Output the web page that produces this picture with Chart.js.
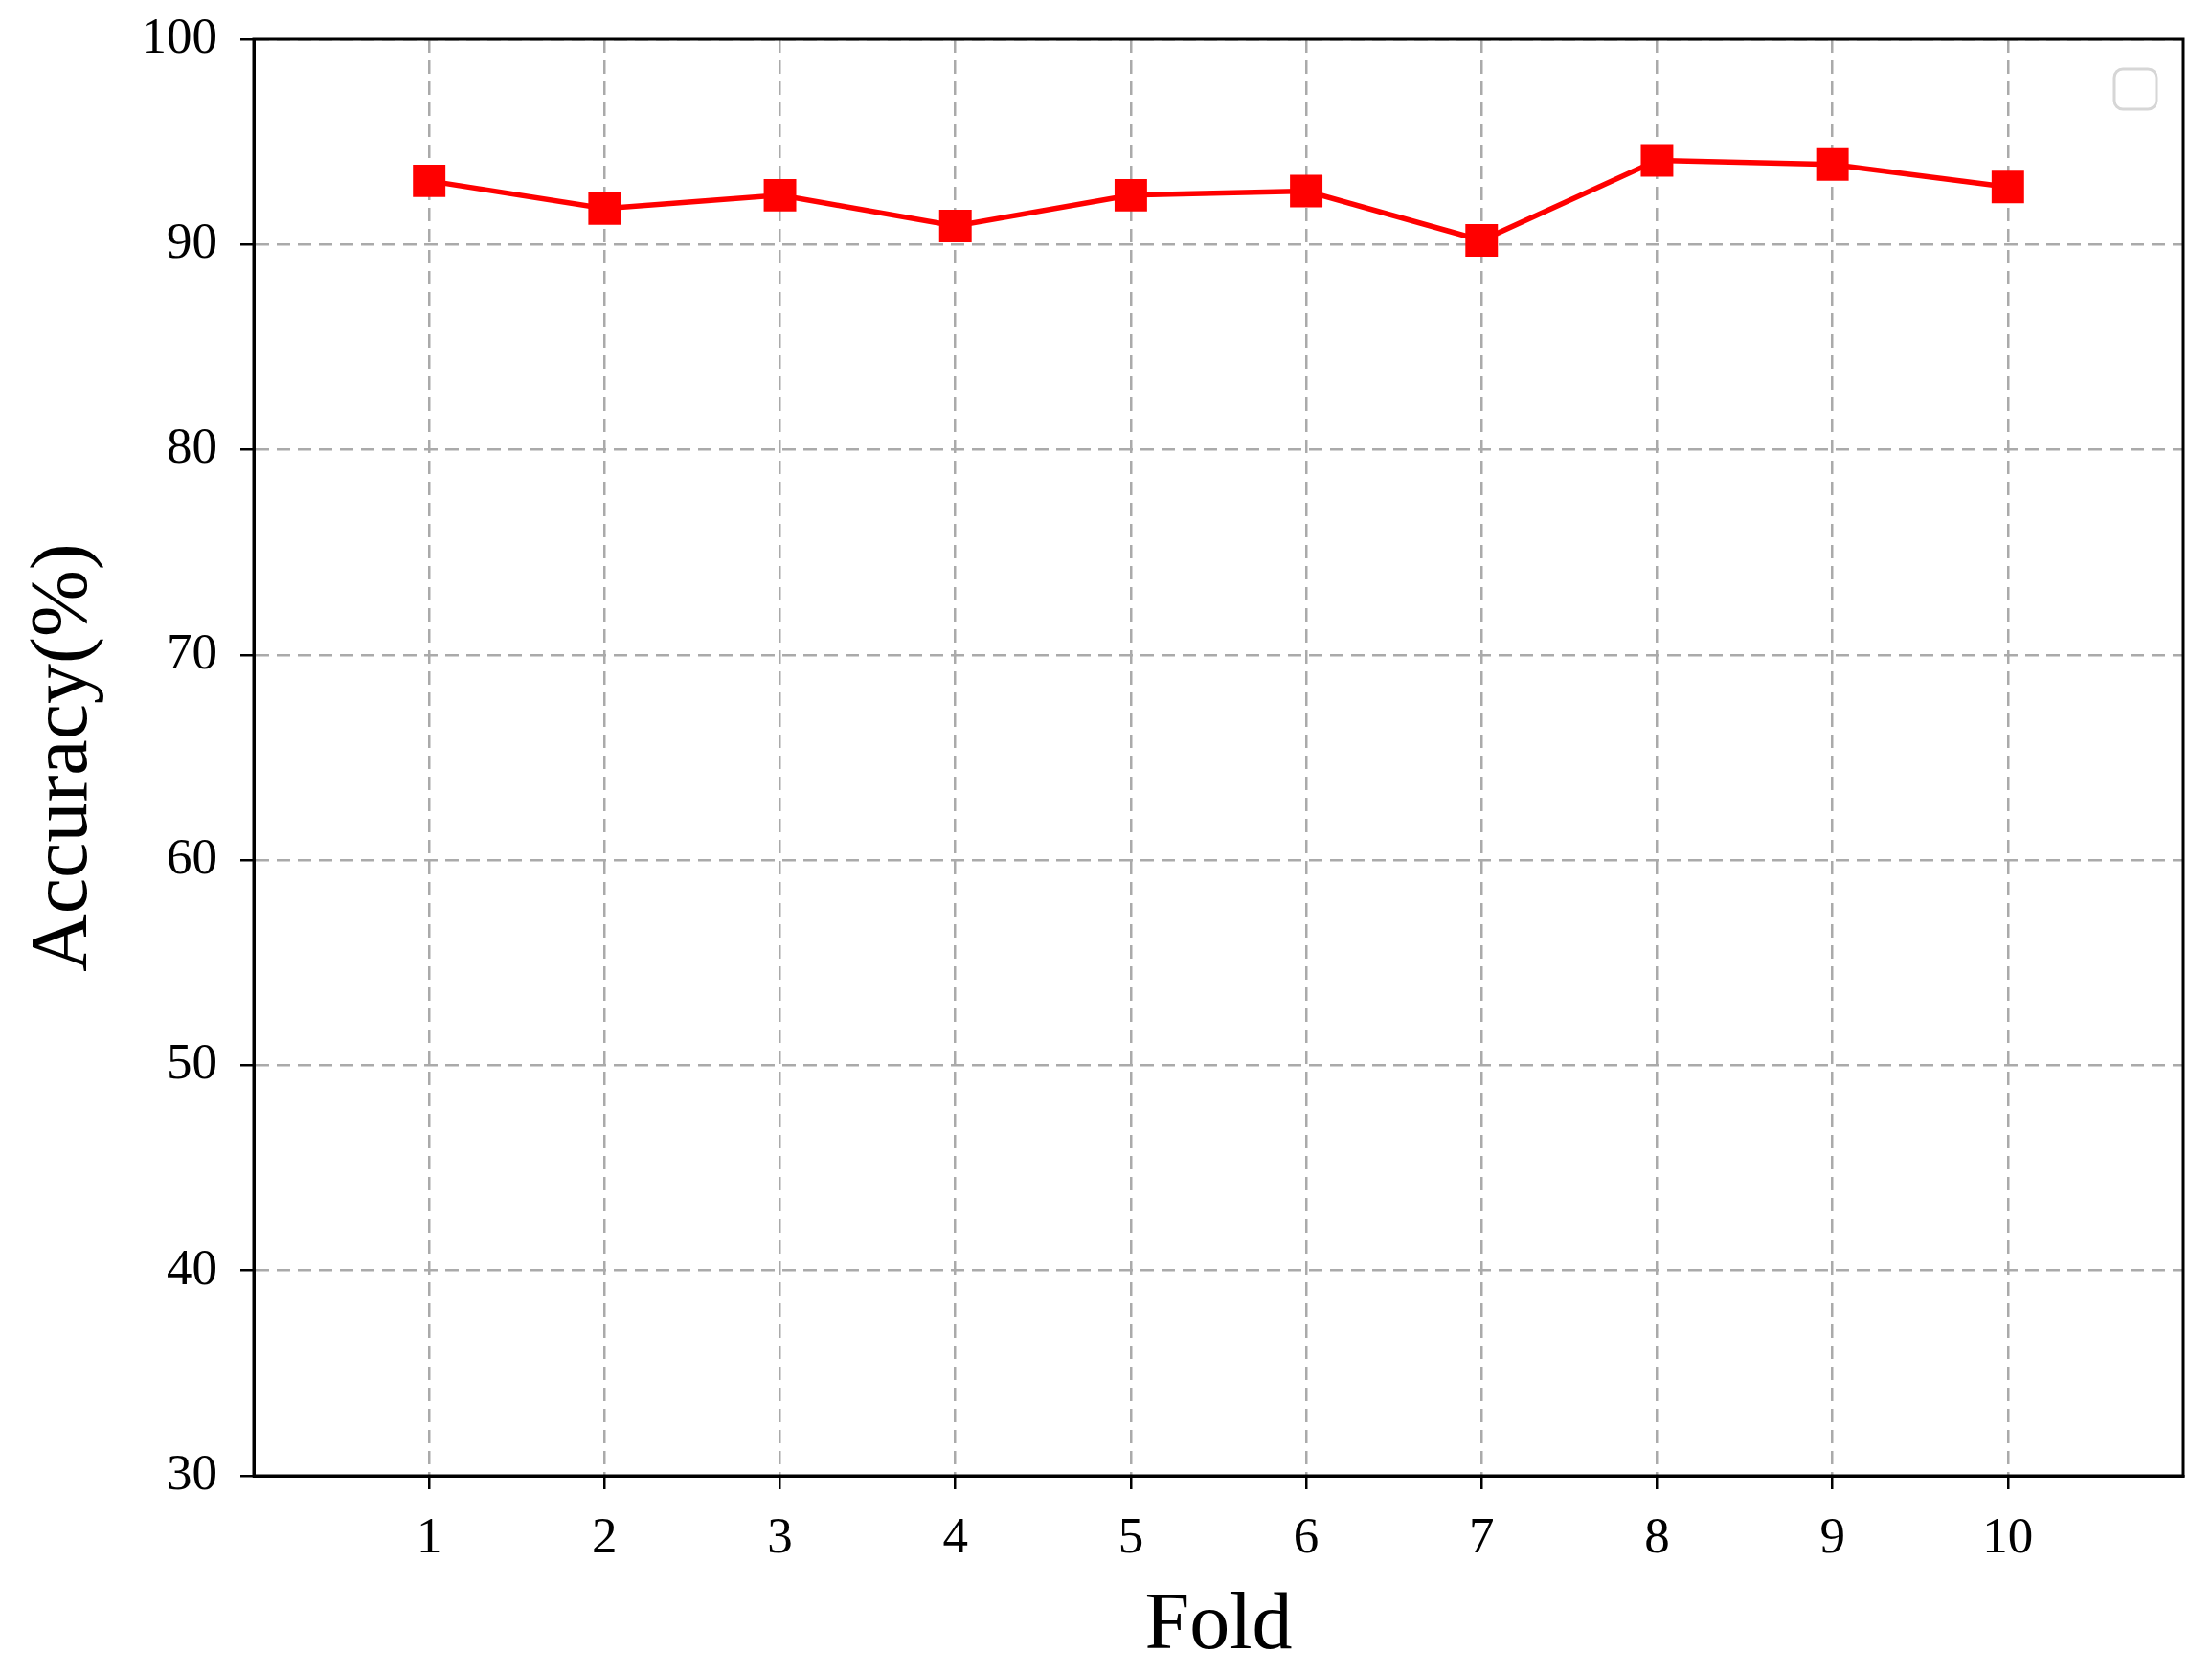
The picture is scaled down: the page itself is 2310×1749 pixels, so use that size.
<!DOCTYPE html>
<html>
<head>
<meta charset="utf-8">
<script src="https://cdn.jsdelivr.net/npm/chart.js@4.4.1/dist/chart.umd.min.js"></script>
<style>
  html, body { margin: 0; padding: 0; background: #fff; }
  #wrap { width: 2310px; height: 1749px; }
</style>
</head>
<body>
<div id="wrap"><canvas id="accChart"></canvas></div>
<script>
// Datos
const folds = [1, 2, 3, 4, 5, 6, 7, 8, 9, 10];
const accuracy = [93.1, 91.75, 92.4, 90.9, 92.4, 92.6, 90.2, 94.1, 93.9, 92.8];
const yTicks = [30, 40, 50, 60, 70, 80, 90, 100];

// Marco completo alrededor del area del grafico + leyenda vacia
const framePlugin = {
    id: 'frame',
    afterDraw(chart) {
        const { ctx, chartArea: a } = chart;
        ctx.save();
        ctx.strokeStyle = '#000';
        ctx.lineWidth = 3;
        ctx.strokeRect(a.left, a.top, a.right - a.left, a.bottom - a.top);

        // caja de leyenda vacia (como matplotlib sin etiquetas)
        const w = 44, h = 42, r = 9;
        const x = a.right - 72, y = a.top + 31;
        ctx.strokeStyle = '#d6d6d6';
        ctx.lineWidth = 3;
        ctx.beginPath();
        ctx.roundRect(x, y, w, h, r);
        ctx.stroke();
        ctx.restore();
    }
};

const ctx = document.getElementById('accChart').getContext('2d');

new Chart(ctx, {
    type: 'line',
    data: {
        datasets: [{
            data: folds.map((f, i) => ({ x: f, y: accuracy[i] })),
            borderColor: '#ff0000',
            backgroundColor: '#ff0000',
            borderWidth: 5.5,
            pointStyle: 'rect',
            pointRadius: 24,
            pointHoverRadius: 24,
            pointBorderWidth: 0,
            tension: 0
        }]
    },
    options: {
        responsive: true,
        maintainAspectRatio: false,
        devicePixelRatio: 1,
        animation: false,
        layout: { padding: { top: 41, right: 30, left: 0, bottom: 0 } },
        plugins: {
            legend: { display: false },
            tooltip: { enabled: false }
        },
        scales: {
            x: {
                type: 'linear',
                min: 0,
                max: 11,
                afterBuildTicks: s => { s.ticks = folds.map(v => ({ value: v })); },
                afterFit: s => { s.height = 208; s.paddingLeft = 0; s.paddingRight = 0; },
                grid: {
                    color: '#aaaaaa',
                    lineWidth: 2.5,
                    tickColor: '#000',
                    tickWidth: 2.5,
                    tickLength: 14,
                    tickBorderDash: []
                },
                border: { display: true, color: '#000', width: 3, dash: [14, 8] },
                ticks: {
                    color: '#000',
                    padding: 20,
                    font: { family: 'Liberation Serif', size: 53 }
                },
                title: {
                    display: true,
                    text: 'Fold',
                    color: '#000',
                    padding: { top: 2, bottom: 0 },
                    font: { family: 'Liberation Serif', size: 84 }
                }
            },
            y: {
                min: 30,
                max: 100,
                afterBuildTicks: s => { s.ticks = yTicks.map(v => ({ value: v })); },
                afterFit: s => { s.width = 265; s.paddingTop = 0; s.paddingBottom = 0; },
                grid: {
                    color: '#aaaaaa',
                    lineWidth: 2.5,
                    tickColor: '#000',
                    tickWidth: 2.5,
                    tickLength: 14,
                    tickBorderDash: []
                },
                border: { display: true, color: '#000', width: 3, dash: [14, 8] },
                ticks: {
                    color: '#000',
                    padding: 24,
                    font: { family: 'Liberation Serif', size: 53 }
                },
                title: {
                    display: true,
                    text: 'Accuracy(%)',
                    color: '#000',
                    padding: { top: 18, bottom: 0 },
                    font: { family: 'Liberation Serif', size: 84 }
                }
            }
        }
    },
    plugins: [framePlugin]
});
</script>
</body>
</html>
